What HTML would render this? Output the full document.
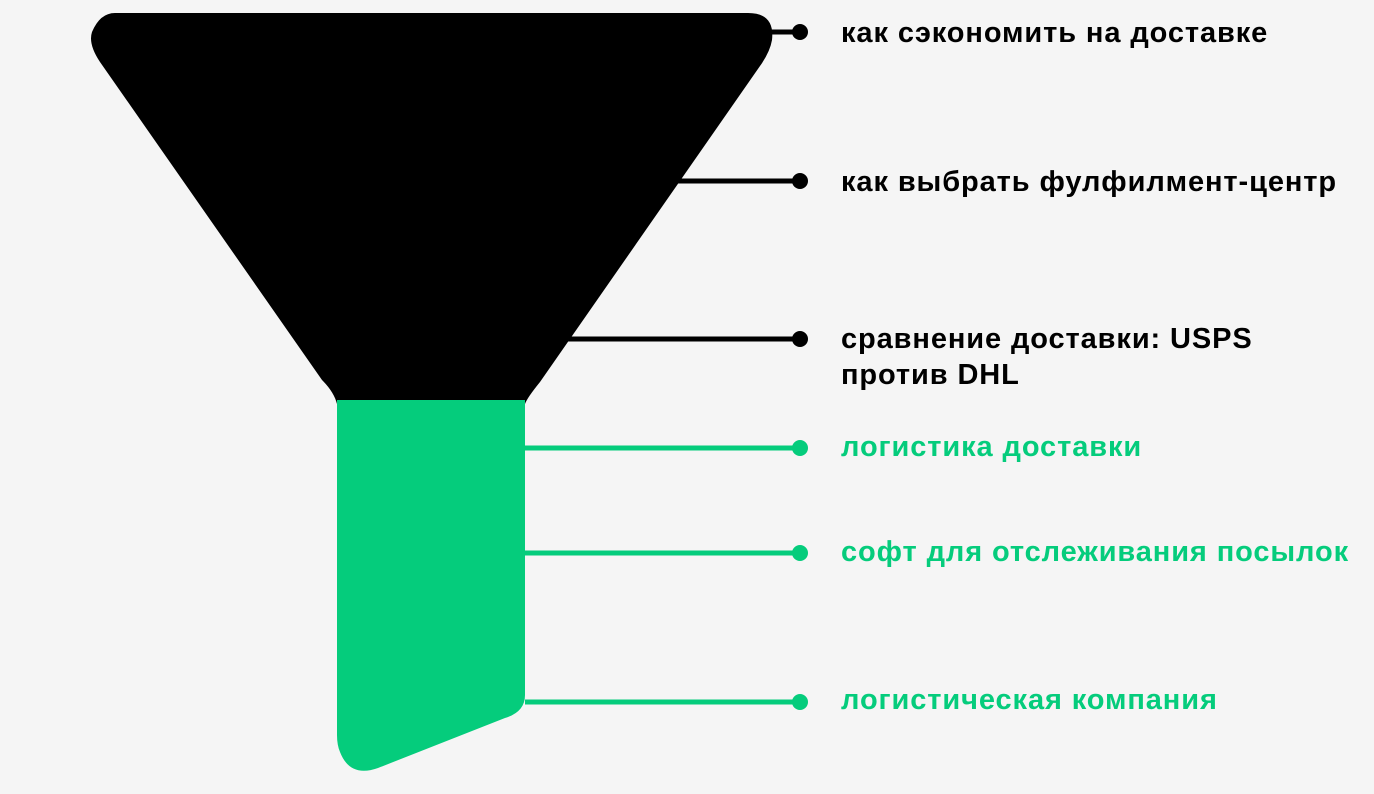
<!DOCTYPE html>
<html><head><meta charset="utf-8"><style>
html,body{margin:0;padding:0;background:#f5f5f5;}
body{width:1374px;height:794px;position:relative;overflow:hidden;font-family:"Liberation Sans","DejaVu Sans",sans-serif;}
.t{position:absolute;left:841px;font-weight:bold;font-size:29px;letter-spacing:0.9px;line-height:36px;white-space:nowrap;}
.k{color:#000}.g{color:#05cc7c}
</style></head><body>
<svg width="1374" height="794" style="position:absolute;left:0;top:0">
<path d="M115,13 L748,13 Q775,13 772,40 Q770,52 760,66 L540,382 Q527,398 525,404 L525,400 L337,400 L337,404 Q334,392 322,380 L100,62 Q88,44 92,32 Q100,13 115,13 Z" fill="#000"/>
<path d="M337,400 L525,400 L525,695 Q525,712 505,718 L378,768 Q350,778 340,752 Q337,745 337,735 Z" fill="#05cc7c"/>
<g stroke-width="5">
<line x1="770" y1="32" x2="800" y2="32" stroke="#000"/>
<line x1="678" y1="181" x2="800" y2="181" stroke="#000"/>
<line x1="565" y1="339" x2="800" y2="339" stroke="#000"/>
<line x1="525" y1="448" x2="800" y2="448" stroke="#05cc7c"/>
<line x1="525" y1="553" x2="800" y2="553" stroke="#05cc7c"/>
<line x1="525" y1="702" x2="800" y2="702" stroke="#05cc7c"/>
</g>
<circle cx="800" cy="32" r="8" fill="#000"/>
<circle cx="800" cy="181" r="8" fill="#000"/>
<circle cx="800" cy="339" r="8" fill="#000"/>
<circle cx="800" cy="448" r="8" fill="#05cc7c"/>
<circle cx="800" cy="553" r="8" fill="#05cc7c"/>
<circle cx="800" cy="702" r="8" fill="#05cc7c"/>
</svg>
<div class="t k" style="top:15px">как сэкономить на доставке</div>
<div class="t k" style="top:164px">как выбрать фулфилмент-центр</div>
<div class="t k" style="top:321px">сравнение доставки: USPS<br>против DHL</div>
<div class="t g" style="top:429px">логистика доставки</div>
<div class="t g" style="top:534px">софт для отслеживания посылок</div>
<div class="t g" style="top:682px">логистическая компания</div>
</body></html>
